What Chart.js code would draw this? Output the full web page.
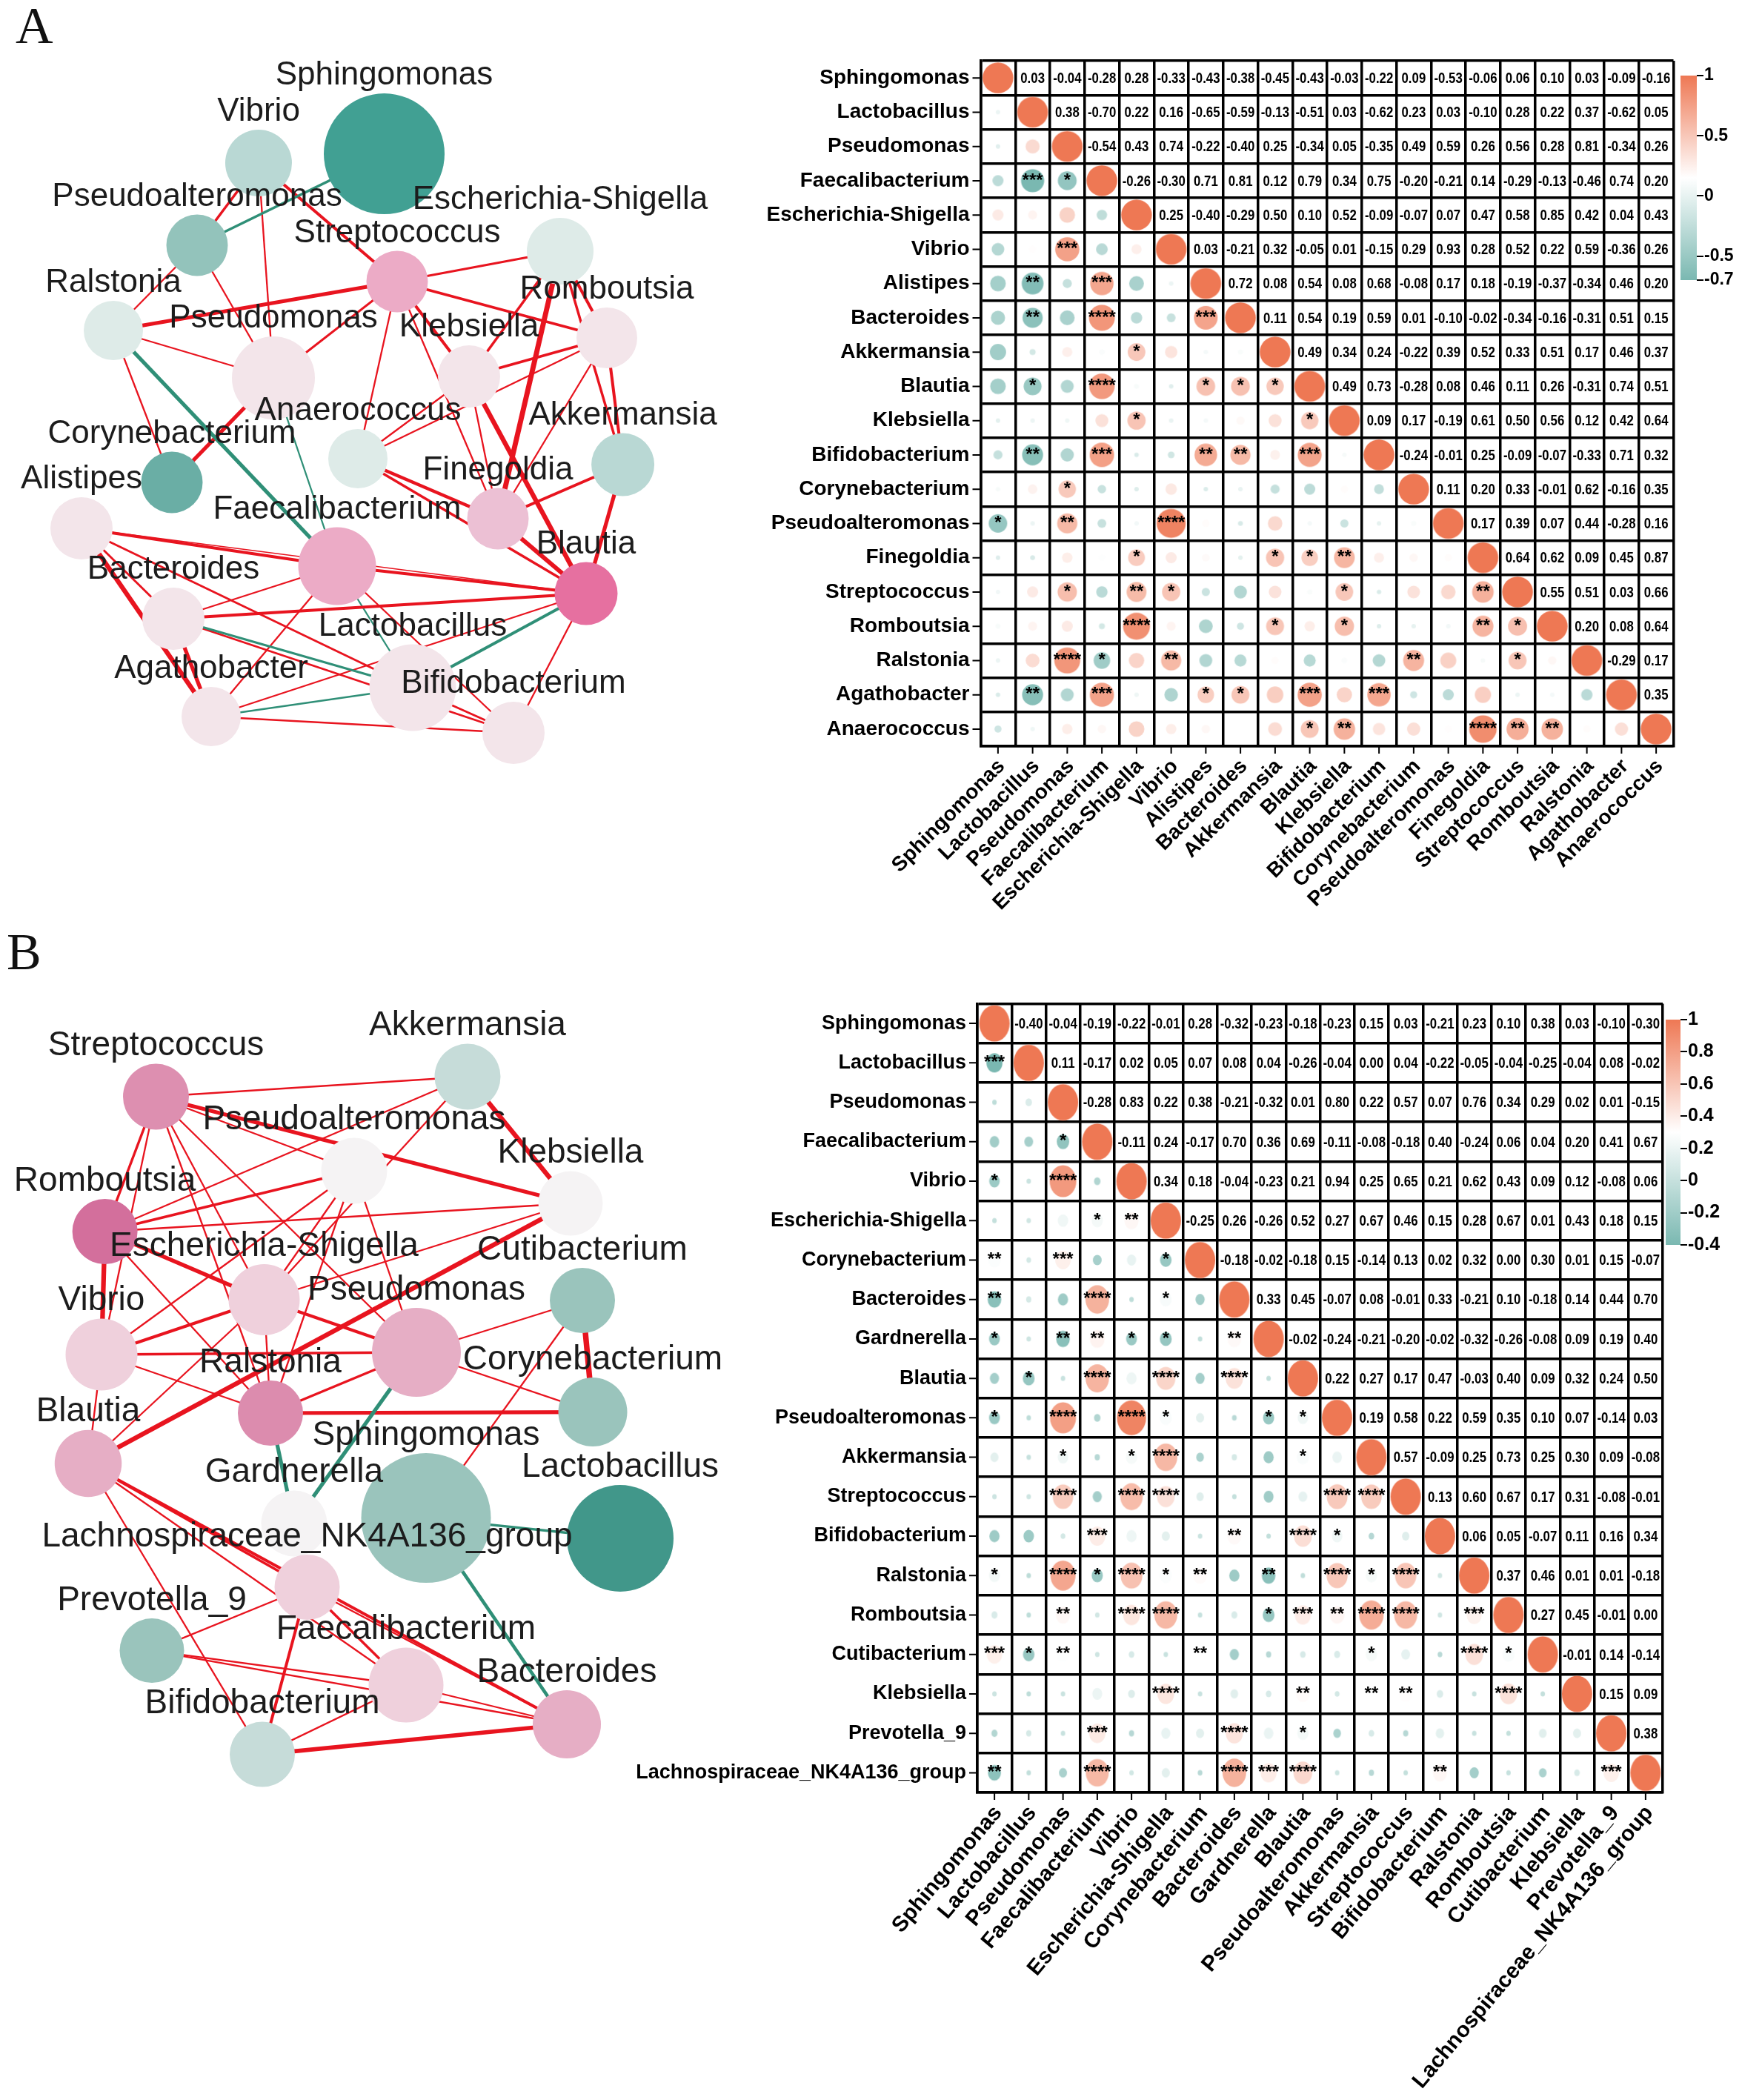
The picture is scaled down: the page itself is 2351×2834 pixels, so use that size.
<!DOCTYPE html>
<html>
<head>
<meta charset="utf-8">
<title>Correlation networks and heatmaps</title>
<script src="https://cdn.jsdelivr.net/npm/chart.js@4/dist/chart.umd.js"></script>
<style>
  html, body { margin: 0; background: #fff; }
  #page { position: relative; width: 2351px; height: 2834px; overflow: hidden; }
  #page canvas { position: absolute; }
  .panel { position: absolute; font: 70px "Liberation Serif", serif; line-height: 1; color: #111; }
</style>
</head>
<body>
<div id="page">
  <div class="panel" style="left:21px;top:0px">A</div>
  <div class="panel" style="left:9px;top:1250px">B</div>
</div>
<script>
// genera, heatmap order
const generaA = ['Sphingomonas','Lactobacillus','Pseudomonas','Faecalibacterium','Escherichia-Shigella','Vibrio','Alistipes','Bacteroides','Akkermansia','Blautia','Klebsiella','Bifidobacterium','Corynebacterium','Pseudoalteromonas','Finegoldia','Streptococcus','Romboutsia','Ralstonia','Agathobacter','Anaerococcus'];
const generaB = ['Sphingomonas','Lactobacillus','Pseudomonas','Faecalibacterium','Vibrio','Escherichia-Shigella','Corynebacterium','Bacteroides','Gardnerella','Blautia','Pseudoalteromonas','Akkermansia','Streptococcus','Bifidobacterium','Ralstonia','Romboutsia','Cutibacterium','Klebsiella','Prevotella_9','Lachnospiraceae_NK4A136_group'];

// upper triangle of the correlation tables, one row per genus, diagonal left out
const corrA = [
  [0.03,-0.04,-0.28,0.28,-0.33,-0.43,-0.38,-0.45,-0.43,-0.03,-0.22,0.09,-0.53,-0.06,0.06,0.10,0.03,-0.09,-0.16],
  [0.38,-0.70,0.22,0.16,-0.65,-0.59,-0.13,-0.51,0.03,-0.62,0.23,0.03,-0.10,0.28,0.22,0.37,-0.62,0.05],
  [-0.54,0.43,0.74,-0.22,-0.40,0.25,-0.34,0.05,-0.35,0.49,0.59,0.26,0.56,0.28,0.81,-0.34,0.26],
  [-0.26,-0.30,0.71,0.81,0.12,0.79,0.34,0.75,-0.20,-0.21,0.14,-0.29,-0.13,-0.46,0.74,0.20],
  [0.25,-0.40,-0.29,0.50,0.10,0.52,-0.09,-0.07,0.07,0.47,0.58,0.85,0.42,0.04,0.43],
  [0.03,-0.21,0.32,-0.05,0.01,-0.15,0.29,0.93,0.28,0.52,0.22,0.59,-0.36,0.26],
  [0.72,0.08,0.54,0.08,0.68,-0.08,0.17,0.18,-0.19,-0.37,-0.34,0.46,0.20],
  [0.11,0.54,0.19,0.59,0.01,-0.10,-0.02,-0.34,-0.16,-0.31,0.51,0.15],
  [0.49,0.34,0.24,-0.22,0.39,0.52,0.33,0.51,0.17,0.46,0.37],
  [0.49,0.73,-0.28,0.08,0.46,0.11,0.26,-0.31,0.74,0.51],
  [0.09,0.17,-0.19,0.61,0.50,0.56,0.12,0.42,0.64],
  [-0.24,-0.01,0.25,-0.09,-0.07,-0.33,0.71,0.32],
  [0.11,0.20,0.33,-0.01,0.62,-0.16,0.35],
  [0.17,0.39,0.07,0.44,-0.28,0.16],
  [0.64,0.62,0.09,0.45,0.87],
  [0.55,0.51,0.03,0.66],
  [0.20,0.08,0.64],
  [-0.29,0.17],
  [0.35]
];
const corrB = [
  [-0.40,-0.04,-0.19,-0.22,-0.01,0.28,-0.32,-0.23,-0.18,-0.23,0.15,0.03,-0.21,0.23,0.10,0.38,0.03,-0.10,-0.30],
  [0.11,-0.17,0.02,0.05,0.07,0.08,0.04,-0.26,-0.04,0.00,0.04,-0.22,-0.05,-0.04,-0.25,-0.04,0.08,-0.02],
  [-0.28,0.83,0.22,0.38,-0.21,-0.32,0.01,0.80,0.22,0.57,0.07,0.76,0.34,0.29,0.02,0.01,-0.15],
  [-0.11,0.24,-0.17,0.70,0.36,0.69,-0.11,-0.08,-0.18,0.40,-0.24,0.06,0.04,0.20,0.41,0.67],
  [0.34,0.18,-0.04,-0.23,0.21,0.94,0.25,0.65,0.21,0.62,0.43,0.09,0.12,-0.08,0.06],
  [-0.25,0.26,-0.26,0.52,0.27,0.67,0.46,0.15,0.28,0.67,0.01,0.43,0.18,0.15],
  [-0.18,-0.02,-0.18,0.15,-0.14,0.13,0.02,0.32,0.00,0.30,0.01,0.15,-0.07],
  [0.33,0.45,-0.07,0.08,-0.01,0.33,-0.21,0.10,-0.18,0.14,0.44,0.70],
  [-0.02,-0.24,-0.21,-0.20,-0.02,-0.32,-0.26,-0.08,0.09,0.19,0.40],
  [0.22,0.27,0.17,0.47,-0.03,0.40,0.09,0.32,0.24,0.50],
  [0.19,0.58,0.22,0.59,0.35,0.10,0.07,-0.14,0.03],
  [0.57,-0.09,0.25,0.73,0.25,0.30,0.09,-0.08],
  [0.13,0.60,0.67,0.17,0.31,-0.08,-0.01],
  [0.06,0.05,-0.07,0.11,0.16,0.34],
  [0.37,0.46,0.01,0.01,-0.18],
  [0.27,0.45,-0.01,0.00],
  [-0.01,0.14,-0.14],
  [0.15,0.09],
  [0.38]
];

// significance stars in the lower triangle: [row, column, number of stars]
const starsA = [
  [3,1,3],[3,2,1],[5,2,3],[6,1,2],[6,3,3],[7,1,2],[7,3,4],[7,6,3],[8,4,1],
  [9,1,1],[9,3,4],[9,6,1],[9,7,1],[9,8,1],[10,4,1],[10,9,1],
  [11,1,2],[11,3,3],[11,6,2],[11,7,2],[11,9,3],[12,2,1],[13,0,1],[13,2,2],[13,5,4],
  [14,4,1],[14,8,1],[14,9,1],[14,10,2],[15,2,1],[15,4,2],[15,5,1],[15,10,1],[15,14,2],
  [16,4,4],[16,8,1],[16,10,1],[16,14,2],[16,15,1],[17,2,4],[17,3,1],[17,5,2],[17,12,2],[17,15,1],
  [18,1,2],[18,3,3],[18,6,1],[18,7,1],[18,9,3],[18,11,3],[19,9,1],[19,10,2],[19,14,4],[19,15,2],[19,16,2]
];
const starsB = [
  [1,0,3],[3,2,1],[4,0,1],[4,2,4],[5,3,1],[5,4,2],[6,0,2],[6,2,3],[6,5,1],[7,0,2],[7,3,4],[7,5,1],
  [8,0,1],[8,2,2],[8,3,2],[8,4,1],[8,5,1],[8,7,2],[9,1,1],[9,3,4],[9,5,4],[9,7,4],
  [10,0,1],[10,2,4],[10,4,4],[10,5,1],[10,8,1],[10,9,1],[11,2,1],[11,4,1],[11,5,4],[11,9,1],
  [12,2,4],[12,4,4],[12,5,4],[12,10,4],[12,11,4],[13,3,3],[13,7,2],[13,9,4],[13,10,1],
  [14,0,1],[14,2,4],[14,3,1],[14,4,4],[14,5,1],[14,6,2],[14,8,2],[14,10,4],[14,11,1],[14,12,4],
  [15,2,2],[15,4,4],[15,5,4],[15,8,1],[15,9,3],[15,10,2],[15,11,4],[15,12,4],[15,14,3],
  [16,0,3],[16,1,1],[16,2,2],[16,6,2],[16,11,1],[16,14,4],[16,15,1],
  [17,5,4],[17,9,2],[17,11,2],[17,12,2],[17,15,4],[18,3,3],[18,7,4],[18,9,1],
  [19,0,2],[19,3,4],[19,7,4],[19,8,3],[19,9,4],[19,13,2],[19,18,3]
];

// colour bars
const barTicksA = [-0.7,-0.5,0,0.5,1];
const barTicksB = [-0.4,-0.2,0,0.2,0.4,0.6,0.8,1];

// network A, layout values
const netNamesA = ['Sphingomonas','Vibrio','Pseudoalteromonas','Streptococcus','Escherichia-Shigella','Ralstonia','Pseudomonas','Klebsiella','Romboutsia','Anaerococcus','Akkermansia','Corynebacterium','Finegoldia','Alistipes','Faecalibacterium','Blautia','Bacteroides','Lactobacillus','Bifidobacterium','Agathobacter'];
const netXA = [518.5,349,266,536,756,153,369,633,819,483,840.6,232,672,110,455,791,234,557,693,285];
const netYA = [207.6,220,331,380,339,446,510,508,456,619,627,651,700,713,764,801,835,928,989,967];
const netSizeA = [163,90,83,83,90,80,112,84,82,80,85,83,83,84,105,85,84,117,84,80];
const netColorsA = ['#41a093','#b9d8d4','#93c3bb','#ecabc6','#deebe8','#deebe8','#f3e5ea','#f3e5ea','#f3e5ea','#deebe8','#b9d8d4','#6aaea5','#ecc0d4','#f3e5ea','#ecabc6','#e670a0','#f3e5ea','#f3e5ea','#f3e5ea','#f3e5ea'];
// [from, to, weight], negative weight is a negative correlation
const netEdgesA = [
  ['Sphingomonas','Pseudoalteromonas',-3],['Vibrio','Pseudoalteromonas',3],['Vibrio','Pseudomonas',2],['Vibrio','Streptococcus',3.5],
  ['Pseudoalteromonas','Ralstonia',2],['Pseudoalteromonas','Pseudomonas',2],['Streptococcus','Escherichia-Shigella',2.5],['Streptococcus','Ralstonia',4.5],
  ['Streptococcus','Pseudomonas',2.5],['Streptococcus','Klebsiella',3.5],['Streptococcus','Romboutsia',3],['Streptococcus','Anaerococcus',2],
  ['Streptococcus','Finegoldia',2],['Escherichia-Shigella','Klebsiella',3],['Escherichia-Shigella','Finegoldia',6],['Escherichia-Shigella','Romboutsia',3.5],
  ['Escherichia-Shigella','Akkermansia',3],['Ralstonia','Pseudomonas',2],['Ralstonia','Corynebacterium',2],['Ralstonia','Faecalibacterium',-4.5],
  ['Pseudomonas','Corynebacterium',4.5],['Pseudomonas','Faecalibacterium',-2],['Klebsiella','Romboutsia',3],['Anaerococcus','Romboutsia',2],
  ['Anaerococcus','Klebsiella',2],['Anaerococcus','Finegoldia',4],['Anaerococcus','Blautia',3],['Klebsiella','Finegoldia',2],['Klebsiella','Blautia',5.5],
  ['Romboutsia','Finegoldia',2],['Romboutsia','Akkermansia',3.5],['Finegoldia','Akkermansia',3.5],['Finegoldia','Blautia',5],['Akkermansia','Blautia',4.5],
  ['Alistipes','Faecalibacterium',3.5],['Faecalibacterium','Blautia',3.5],['Alistipes','Blautia',1.5],['Alistipes','Bacteroides',2.5],['Alistipes','Agathobacter',5.5],
  ['Alistipes','Lactobacillus',2.5],['Bacteroides','Faecalibacterium',2],['Bacteroides','Blautia',3.5],['Bacteroides','Agathobacter',4.5],
  ['Bacteroides','Lactobacillus',-2.5],['Bacteroides','Bifidobacterium',2.5],['Faecalibacterium','Agathobacter',2],['Faecalibacterium','Lactobacillus',-2],
  ['Faecalibacterium','Bifidobacterium',2],['Agathobacter','Lactobacillus',-2],['Agathobacter','Blautia',2],['Agathobacter','Bifidobacterium',2],
  ['Lactobacillus','Blautia',-3.5],['Blautia','Bifidobacterium',2],['Lactobacillus','Bifidobacterium',2.5]
];

// network B
const netNamesB = ['Streptococcus','Akkermansia','Pseudoalteromonas','Klebsiella','Romboutsia','Escherichia-Shigella','Cutibacterium','Vibrio','Pseudomonas','Ralstonia','Corynebacterium','Blautia','Gardnerella','Sphingomonas','Lactobacillus','Lachnospiraceae_NK4A136_group','Prevotella_9','Faecalibacterium','Bacteroides','Bifidobacterium'];
const netXB = [210.5,631,478,770,141.6,356.5,786,137,562,365,800,119,397,575,837,414.5,205,548,765,354];
const netYB = [1480,1453,1580,1624,1662,1754,1755,1828,1825,1907,1905.6,1975,2056,2048.6,2076,2142,2227.6,2274,2327,2367.6];
const netSizeB = [89,89,89,87,88,96,88,97,120,88,93,90.5,89,175,144,88,87,101,92,88];
const netColorsB = ['#dd8fb0','#c6dcd9','#f5f3f4','#f5f3f4','#d36f9c','#efd0dc','#9ac4bc','#efd0dc','#e6aec5','#dc8cae','#9ac4bc','#e6aec5','#f5f3f4','#9ac4bc','#41978a','#efd0dc','#9ac4bc','#efd0dc','#e6aec5','#c6dcd9'];
const netEdgesB = [
  ['Streptococcus','Akkermansia',2],['Streptococcus','Pseudoalteromonas',2],['Streptococcus','Klebsiella',4.5],['Streptococcus','Romboutsia',3],
  ['Streptococcus','Vibrio',2],['Streptococcus','Escherichia-Shigella',2],['Streptococcus','Ralstonia',2],['Streptococcus','Pseudomonas',2],
  ['Akkermansia','Klebsiella',5.5],['Akkermansia','Romboutsia',2],['Akkermansia','Escherichia-Shigella',2],['Pseudoalteromonas','Romboutsia',3],
  ['Pseudoalteromonas','Vibrio',2],['Pseudoalteromonas','Escherichia-Shigella',2],['Pseudoalteromonas','Ralstonia',2],['Pseudoalteromonas','Pseudomonas',2],
  ['Klebsiella','Romboutsia',2],['Klebsiella','Escherichia-Shigella',2],['Klebsiella','Blautia',5.5],['Romboutsia','Vibrio',5.5],
  ['Romboutsia','Escherichia-Shigella',4.5],['Romboutsia','Ralstonia',2],['Escherichia-Shigella','Pseudomonas',3.5],['Escherichia-Shigella','Vibrio',3.5],
  ['Escherichia-Shigella','Blautia',2],['Escherichia-Shigella','Ralstonia',2],['Vibrio','Pseudomonas',3],['Vibrio','Ralstonia',2],['Vibrio','Blautia',2],
  ['Pseudomonas','Ralstonia',3],['Pseudomonas','Cutibacterium',2],['Pseudomonas','Corynebacterium',2],['Pseudomonas','Gardnerella',-4.5],
  ['Ralstonia','Corynebacterium',4.5],['Ralstonia','Gardnerella',-4.5],['Cutibacterium','Corynebacterium',6.5],['Cutibacterium','Sphingomonas',2],
  ['Sphingomonas','Lactobacillus',-3],['Sphingomonas','Bacteroides',-4],['Blautia','Lachnospiraceae_NK4A136_group',3],['Blautia','Faecalibacterium',2],
  ['Blautia','Bacteroides',3.5],['Blautia','Bifidobacterium',2],['Lachnospiraceae_NK4A136_group','Faecalibacterium',3],['Lachnospiraceae_NK4A136_group','Bacteroides',2],
  ['Lachnospiraceae_NK4A136_group','Prevotella_9',2],['Lachnospiraceae_NK4A136_group','Bifidobacterium',3.5],['Prevotella_9','Faecalibacterium',2],
  ['Prevotella_9','Bacteroides',2],['Faecalibacterium','Bacteroides',2],['Faecalibacterium','Bifidobacterium',2],['Bifidobacterium','Bacteroides',5]
];

const SANS = '"Liberation Sans", Arial, sans-serif';
const HIGH = [238, 120, 84];
const LOW = [122, 184, 177];
const RED = '#e8141f';
const GREEN = '#2f8f77';

Chart.defaults.animation = false;
Chart.defaults.responsive = false;
Chart.defaults.plugins.legend.display = false;
Chart.defaults.plugins.tooltip.enabled = false;

function addCanvas(left, top, width, height) {
  const c = document.createElement('canvas');
  c.width = width;
  c.height = height;
  c.style.left = left + 'px';
  c.style.top = top + 'px';
  document.getElementById('page').appendChild(c);
  return c;
}

// the midpoint of the colour range is white, not zero
function mix(t, end) {
  const c = end.map(v => Math.round(255 + (v - 255) * t));
  return `rgb(${c[0]},${c[1]},${c[2]})`;
}
function corrColor(r, min, max) {
  const mid = (min + max) / 2;
  return r >= mid ? mix((r - mid) / (max - mid), HIGH) : mix((mid - r) / (mid - min), LOW);
}

const sprites = {};
function ellipseSprite(w, h, color) {
  const key = w.toFixed(1) + '/' + h.toFixed(1) + color;
  if (!sprites[key]) {
    const c = document.createElement('canvas');
    c.width = Math.ceil(w) + 2;
    c.height = Math.ceil(h) + 2;
    const g = c.getContext('2d');
    g.fillStyle = color;
    g.beginPath();
    g.ellipse(c.width / 2, c.height / 2, w / 2, h / 2, 0, 0, Math.PI * 2);
    g.fill();
    sprites[key] = c;
  }
  return sprites[key];
}

// network: edges and nodes are scatter datasets on hidden linear axes
function drawNetwork(cfg) {
  const index = {};
  cfg.names.forEach((n, i) => { index[n] = i; });
  const point = i => ({ x: cfg.xs[i], y: cfg.ys[i] });

  const datasets = cfg.edges.map(e => ({
    data: [point(index[e[0]]), point(index[e[1]])],
    showLine: true,
    borderColor: e[2] < 0 ? GREEN : RED,
    borderWidth: Math.abs(e[2]) * 1.15,
    pointRadius: 0,
    order: 2
  }));
  datasets.push({
    data: cfg.names.map((n, i) => point(i)),
    backgroundColor: cfg.colors,
    pointRadius: cfg.sizes.map(s => s / 2),
    pointBorderWidth: 0,
    order: 1
  });

  const labels = {
    id: 'nodeLabels',
    afterDatasetsDraw(chart) {
      const { ctx, scales } = chart;
      ctx.save();
      ctx.font = cfg.fontSize + 'px ' + SANS;
      ctx.fillStyle = '#1c1c1c';
      ctx.textAlign = 'center';
      ctx.textBaseline = 'middle';
      cfg.names.forEach((n, i) => {
        const y = scales.y.getPixelForValue(cfg.ys[i]) - cfg.sizes[i] / 2 - 24;
        ctx.fillText(n, scales.x.getPixelForValue(cfg.xs[i]), y);
      });
      ctx.restore();
    }
  };

  const c = addCanvas(cfg.box[0], cfg.box[1], cfg.box[2], cfg.box[3]);
  new Chart(c, {
    type: 'scatter',
    data: { datasets },
    options: {
      clip: false,
      layout: { autoPadding: false },
      scales: {
        x: { type: 'linear', display: false, min: cfg.box[0], max: cfg.box[0] + cfg.box[2] },
        y: { type: 'linear', display: false, min: cfg.box[1], max: cfg.box[1] + cfg.box[3], reverse: true }
      }
    },
    plugins: [labels]
  });
}

// heatmap: category axes, grid lines on the cell borders, circles below the diagonal
function drawHeatmap(cfg) {
  const n = cfg.genera.length;
  const corr = (i, j) => {
    if (i === j) return 1;
    return i < j ? cfg.corr[i][j - i - 1] : cfg.corr[j][i - j - 1];
  };

  const cells = [];
  for (let row = 0; row < n; row++) {
    for (let col = 0; col <= row; col++) {
      cells.push({ x: cfg.genera[col], y: cfg.genera[row], r: corr(row, col) });
    }
  }

  const overlay = {
    id: 'cellText',
    afterDatasetsDraw(chart) {
      const { ctx, scales } = chart;
      ctx.save();
      ctx.textAlign = 'center';
      ctx.textBaseline = 'middle';
      ctx.fillStyle = '#000';
      ctx.font = 'bold ' + cfg.textSize + 'px ' + SANS;
      // the numbers are condensed in the figure, there is no narrow bold font here
      for (let row = 0; row < n; row++) {
        for (let col = row + 1; col < n; col++) {
          ctx.save();
          ctx.translate(scales.x.getPixelForValue(col), scales.y.getPixelForValue(row) + 1);
          ctx.scale(0.8, 1);
          ctx.fillText(corr(row, col).toFixed(2), 0, 0);
          ctx.restore();
        }
      }
      ctx.font = 'bold 24px ' + SANS;
      cfg.stars.forEach(s => {
        ctx.fillText('*'.repeat(s[2]), scales.x.getPixelForValue(s[1]), scales.y.getPixelForValue(s[0]));
      });
      // tick marks sit on the cell centres
      ctx.strokeStyle = '#000';
      ctx.lineWidth = 2;
      ctx.beginPath();
      for (let i = 0; i < n; i++) {
        const x = scales.x.getPixelForValue(i);
        const y = scales.y.getPixelForValue(i);
        ctx.moveTo(x, chart.chartArea.bottom);
        ctx.lineTo(x, chart.chartArea.bottom + 10);
        ctx.moveTo(chart.chartArea.left - 11, y);
        ctx.lineTo(chart.chartArea.left, y);
      }
      ctx.stroke();
      ctx.restore();
    }
  };

  const grid = { offset: true, color: '#000', lineWidth: 3.5, drawTicks: false };
  const border = { display: true, color: '#000', width: 3.5 };
  const box = cfg.box;
  const c = addCanvas(box[0], box[1], box[2], box[3]);
  new Chart(c, {
    type: 'scatter',
    data: {
      datasets: [{
        data: cells,
        pointRadius: ctx => cfg.w(ctx.raw.r) / 2,
        pointBorderWidth: 0,
        pointStyle: ctx => ellipseSprite(cfg.w(ctx.raw.r), cfg.w(ctx.raw.r) * cfg.stretch, corrColor(ctx.raw.r, cfg.min, 1))
      }]
    },
    options: {
      layout: { autoPadding: false, padding: { top: cfg.plot[1] - box[1], right: box[0] + box[2] - cfg.plot[2], left: 0, bottom: 0 } },
      scales: {
        x: {
          type: 'category', labels: cfg.genera, offset: true, grid, border,
          ticks: {
            autoSkip: false, minRotation: cfg.rotation, maxRotation: cfg.rotation, padding: 11, labelOffset: 5,
            color: '#000', font: { family: SANS, size: cfg.xLabelSize, weight: 'bold' }
          },
          afterFit(s) {
            s.height = box[1] + box[3] - cfg.plot[3];
            s.paddingLeft = 0;
            s.paddingRight = 0;
          }
        },
        y: {
          type: 'category', labels: cfg.genera, offset: true, grid, border,
          ticks: { autoSkip: false, padding: 15, color: '#000', font: { family: SANS, size: cfg.labelSize, weight: 'bold' } },
          afterFit(s) {
            s.width = cfg.plot[0] - box[0];
            s.paddingTop = 0;
            s.paddingBottom = 0;
          }
        }
      }
    },
    plugins: [overlay]
  });
}

// colour bar: one floating bar with a gradient fill
function drawColorBar(cfg) {
  const box = cfg.box;
  const c = addCanvas(box[0], box[1], box[2], box[3]);
  new Chart(c, {
    type: 'bar',
    data: {
      labels: [''],
      datasets: [{
        data: [[cfg.ticks[0], 1]],
        categoryPercentage: 1,
        barPercentage: 1,
        backgroundColor(ctx) {
          const area = ctx.chart.chartArea;
          if (!area) return '#fff';
          const g = ctx.chart.ctx.createLinearGradient(0, area.bottom, 0, area.top);
          g.addColorStop(0, mix(1, LOW));
          g.addColorStop(0.5, '#fff');
          g.addColorStop(1, mix(1, HIGH));
          return g;
        }
      }]
    },
    options: {
      layout: { padding: { left: cfg.plot[0] - box[0], top: cfg.plot[1] - box[1], bottom: box[1] + box[3] - cfg.plot[3], right: 0 } },
      scales: {
        x: { display: false },
        y: {
          position: 'right', min: cfg.ticks[0], max: 1,
          afterBuildTicks(s) { s.ticks = cfg.ticks.map(v => ({ value: v })); },
          border: { display: false },
          grid: { drawOnChartArea: false, color: '#000', lineWidth: 2, tickLength: 9 },
          ticks: { padding: 1, color: '#000', font: { family: SANS, size: cfg.fontSize, weight: 'bold' }, callback: v => String(v) },
          afterFit(s) {
            s.width = box[0] + box[2] - cfg.plot[2];
            s.paddingTop = 0;
            s.paddingBottom = 0;
          }
        }
      }
    }
  });
}

drawNetwork({ box: [0, 60, 1000, 1000], names: netNamesA, xs: netXA, ys: netYA, sizes: netSizeA, colors: netColorsA, edges: netEdgesA, fontSize: 44 });
drawNetwork({ box: [0, 1320, 1000, 1120], names: netNamesB, xs: netXB, ys: netYB, sizes: netSizeB, colors: netColorsB, edges: netEdgesB, fontSize: 46 });

drawHeatmap({
  box: [1000, 70, 1264, 1200], plot: [1323.5, 82, 2258.5, 1007],
  genera: generaA, corr: corrA, stars: starsA, min: -0.7, labelSize: 28, xLabelSize: 28, rotation: 45, textSize: 21, stretch: 1,
  w: r => Math.max(6, 41.5 * Math.pow(Math.abs(r), 0.8))
});
drawHeatmap({
  box: [760, 1340, 1490, 1494], plot: [1319, 1354.5, 2244, 2419],
  genera: generaB, corr: corrB, stars: starsB, min: -0.4, labelSize: 27, xLabelSize: 29.5, rotation: 50, textSize: 21, stretch: 1.2,
  w: r => Math.max(6, 41 * Math.pow(Math.abs(r), 0.7))
});

drawColorBar({ box: [2260, 80, 91, 320], plot: [2268, 102, 2290, 378], ticks: barTicksA, fontSize: 23 });
drawColorBar({ box: [2240, 1350, 111, 350], plot: [2248, 1376, 2268, 1680], ticks: barTicksB, fontSize: 25 });
</script>
</body>
</html>
